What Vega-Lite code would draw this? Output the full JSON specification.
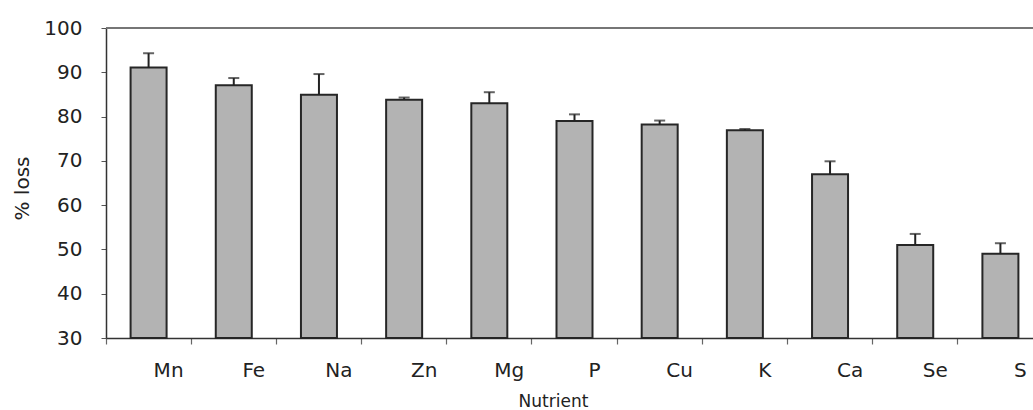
{
  "$schema": "https://vega.github.io/schema/vega-lite/v6.json",
  "autosize": {"type": "none"},
  "width": 927,
  "height": 310,
  "padding": {"left": 106, "top": 28, "right": 0, "bottom": 72},
  "background": "white",
  "config": {
    "view": {"stroke": null},
    "font": "DejaVu Sans",
    "axis": {"grid": false, "labelFont": "DejaVu Sans", "titleFont": "DejaVu Sans", "labelColor": "#222", "titleColor": "#222", "titleFontWeight": "normal"}
  },
  "data": {
    "values": [
      {"nutrient": "Mn", "loss": 91.1, "upper": 94.3},
      {"nutrient": "Fe", "loss": 87.1, "upper": 88.7},
      {"nutrient": "Na", "loss": 84.9, "upper": 89.6},
      {"nutrient": "Zn", "loss": 83.8, "upper": 84.3},
      {"nutrient": "Mg", "loss": 83.0, "upper": 85.5},
      {"nutrient": "P", "loss": 79.0, "upper": 80.5},
      {"nutrient": "Cu", "loss": 78.2, "upper": 79.1},
      {"nutrient": "K", "loss": 76.9, "upper": 77.2},
      {"nutrient": "Ca", "loss": 67.0, "upper": 69.9},
      {"nutrient": "Se", "loss": 51.0, "upper": 53.5},
      {"nutrient": "S", "loss": 49.0, "upper": 51.4}
    ]
  },
  "encoding": {
    "x": {
      "field": "nutrient",
      "type": "nominal",
      "sort": null,
      "scale": {"range": [0, 937], "paddingInner": 0, "paddingOuter": 0},
      "axis": {
        "title": "Nutrient",
        "labelAngle": 0,
        "bandPosition": 0,
        "labelOffset": 20,
        "labelFontSize": 20,
        "labelPadding": 16,
        "tickSize": 6,
        "tickColor": "#666",
        "tickWidth": 1.2,
        "domainColor": "#333",
        "domainWidth": 1.5,
        "titleFontSize": 17,
        "titleX": 447,
        "titleY": 63,
        "titleBaseline": "middle",
        "titleAlign": "center"
      }
    }
  },
  "layer": [
    {
      "mark": {"type": "rule", "color": "#777", "strokeWidth": 1.2},
      "encoding": {"x": null, "y": {"datum": 100, "type": "quantitative"}}
    },
    {
      "mark": {"type": "bar", "size": 36, "fill": "#b3b3b3", "stroke": "#262626", "strokeWidth": 2},
      "encoding": {
        "y": {
          "field": "loss",
          "type": "quantitative",
          "scale": {"domain": [30, 100], "nice": false, "zero": false},
          "axis": {
            "title": "% loss",
            "values": [30, 40, 50, 60, 70, 80, 90, 100],
            "labelFontSize": 20,
            "labelPadding": 19,
            "tickSize": 5,
            "tickColor": "#555",
            "domainColor": "#333",
            "domainWidth": 1.5,
            "titleFontSize": 20,
            "titleX": -84,
            "titleY": 160,
            "titleAngle": -90,
            "titleAlign": "center",
            "titleBaseline": "middle"
          }
        },
        "y2": {"datum": 30}
      }
    },
    {
      "mark": {"type": "rule", "color": "#222", "strokeWidth": 2},
      "encoding": {
        "y": {"field": "loss", "type": "quantitative"},
        "y2": {"field": "upper"}
      }
    },
    {
      "mark": {"type": "tick", "color": "#222", "size": 11, "thickness": 2},
      "encoding": {
        "y": {"field": "upper", "type": "quantitative"}
      }
    }
  ]
}
